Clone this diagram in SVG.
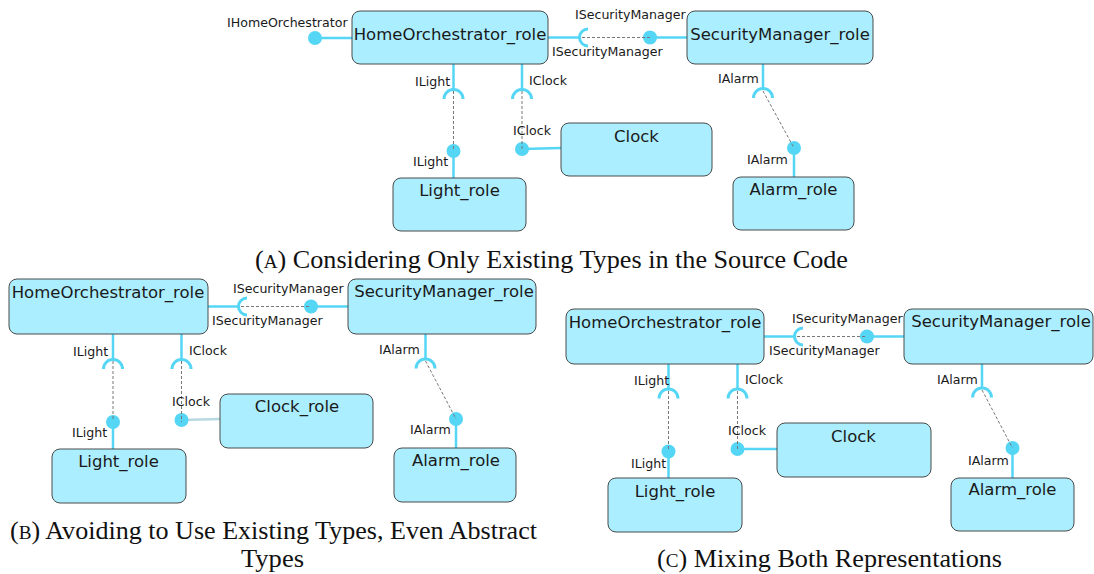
<svg xmlns="http://www.w3.org/2000/svg" width="1094" height="574" viewBox="0 0 1094 574">
  <defs>
    <style>
      .box { fill: #aaeeff; stroke: #4a4a4a; stroke-width: 1; }
      .name { font-family: "DejaVu Sans", Verdana, sans-serif; font-size: 16.5px; fill: #1a1a1a; text-anchor: middle; }
      .lbl { font-family: "DejaVu Sans", Verdana, sans-serif; font-size: 12.6px; fill: #1a1a1a; }
      .wire { stroke: #55d6f5; stroke-width: 2.5; fill: none; }
      .sock { stroke: #55d6f5; stroke-width: 3; fill: none; }
      .ball { fill: #55d6f5; }
      .dash { stroke: #777; stroke-width: 1; stroke-dasharray: 3 2; fill: none; }
      .cap { font-family: "Liberation Serif", "Times New Roman", serif; font-size: 26px; fill: #111; }
      .cap2 { font-family: "Liberation Serif", "Times New Roman", serif; font-size: 24.5px; fill: #111; }
    </style>
  </defs>
  <rect width="1094" height="574" fill="#ffffff"/>

  <!-- ===== (A) ===== -->
  <g id="connectors-a">
    <!-- provided IHomeOrchestrator -->
    <line class="wire" x1="315" y1="38" x2="352" y2="38"/>
    <circle class="ball" cx="315" cy="38" r="7"/>
    <!-- ISecurityManager -->
    <line class="wire" x1="548" y1="37.5" x2="580" y2="37.5"/>
    <path class="sock" d="M588,29 A8.5,8.5 0 0 0 588,46"/>
    <line class="wire" x1="650" y1="37.5" x2="687" y2="37.5"/>
    <circle class="ball" cx="650" cy="37.5" r="7"/>
    <line class="dash" x1="582" y1="37.5" x2="650" y2="37.5"/>
    <!-- ILight -->
    <line class="wire" x1="453.5" y1="64" x2="453.5" y2="89.5"/>
    <path class="sock" d="M444,99 A9.5,9.5 0 0 1 463,99"/>
    <line class="wire" x1="453.5" y1="151" x2="453.5" y2="178"/>
    <circle class="ball" cx="453.5" cy="151" r="7"/>
    <line class="dash" x1="453.5" y1="91" x2="453.5" y2="151"/>
    <!-- IClock -->
    <line class="wire" x1="522" y1="64" x2="522" y2="89.5"/>
    <path class="sock" d="M512.5,99 A9.5,9.5 0 0 1 531.5,99"/>
    <line class="wire" x1="522" y1="149" x2="561" y2="148"/>
    <circle class="ball" cx="522" cy="149" r="7"/>
    <line class="dash" x1="522" y1="91" x2="522" y2="151"/>
    <!-- IAlarm -->
    <line class="wire" x1="763" y1="64" x2="763" y2="88.5"/>
    <path class="sock" d="M753.5,98 A9.5,9.5 0 0 1 772.5,98"/>
    <line class="wire" x1="794" y1="148" x2="794" y2="177"/>
    <circle class="ball" cx="794" cy="148" r="7"/>
    <line class="dash" x1="763" y1="91" x2="794" y2="148"/>
    <!-- interface labels -->
    <text class="lbl" x="227" y="27">IHomeOrchestrator</text>
    <text class="lbl" x="575" y="19">ISecurityManager</text>
    <text class="lbl" x="552" y="56">ISecurityManager</text>
    <text class="lbl" x="415" y="86">ILight</text>
    <text class="lbl" x="529" y="85">IClock</text>
    <text class="lbl" x="718" y="83">IAlarm</text>
    <text class="lbl" x="413" y="166">ILight</text>
    <text class="lbl" x="513" y="135">IClock</text>
    <text class="lbl" x="747" y="164">IAlarm</text>
  </g>
  <g id="a-home">
    <rect class="box" x="352" y="11" width="196" height="53" rx="8"/>
    <text class="name" x="450" y="40">HomeOrchestrator_role</text>
  </g>
  <g id="a-security">
    <rect class="box" x="687" y="11" width="186" height="53" rx="8"/>
    <text class="name" x="780" y="40">SecurityManager_role</text>
  </g>
  <g id="a-light">
    <rect class="box" x="393" y="178" width="133" height="53" rx="8"/>
    <text class="name" x="459.5" y="196">Light_role</text>
  </g>
  <g id="a-clock">
    <rect class="box" x="561" y="123" width="151" height="53" rx="8"/>
    <text class="name" x="636.5" y="142">Clock</text>
  </g>
  <g id="a-alarm">
    <rect class="box" x="733" y="177" width="121" height="53" rx="8"/>
    <text class="name" x="793.5" y="195">Alarm_role</text>
  </g>
  <text class="cap" x="255" y="268" textLength="593" lengthAdjust="spacingAndGlyphs">(<tspan font-size="19">A</tspan>) Considering Only Existing Types in the Source Code</text>

  <!-- ===== (B) ===== -->
  <g id="connectors-b">
    <!-- ISecurityManager -->
    <line class="wire" x1="208" y1="306.5" x2="239" y2="306.5"/>
    <path class="sock" d="M247,298 A8.5,8.5 0 0 0 247,315"/>
    <line class="wire" x1="311" y1="306.5" x2="348" y2="306.5"/>
    <circle class="ball" cx="311" cy="306.5" r="7"/>
    <line class="dash" x1="241" y1="306.5" x2="311" y2="306.5"/>
    <!-- ILight -->
    <line class="wire" x1="113" y1="334" x2="113" y2="359.5"/>
    <path class="sock" d="M103.5,369 A9.5,9.5 0 0 1 122.5,369"/>
    <line class="wire" x1="113" y1="422" x2="113" y2="449"/>
    <circle class="ball" cx="113" cy="422" r="7"/>
    <line class="dash" x1="113" y1="361" x2="113" y2="420"/>
    <!-- IClock -->
    <line class="wire" x1="181.5" y1="334" x2="181.5" y2="359.5"/>
    <path class="sock" d="M172,369 A9.5,9.5 0 0 1 191,369"/>
    <line x1="181.5" y1="420" x2="220" y2="419" stroke="#b8d8e2" stroke-width="2.5"/>
    <circle class="ball" cx="181.5" cy="420" r="7"/>
    <line class="dash" x1="181.5" y1="361" x2="181.5" y2="422"/>
    <!-- IAlarm -->
    <line class="wire" x1="425.5" y1="334" x2="425.5" y2="359"/>
    <path class="sock" d="M416,368.5 A9.5,9.5 0 0 1 435,368.5"/>
    <line class="wire" x1="456" y1="419" x2="456" y2="448"/>
    <circle class="ball" cx="456" cy="419" r="7"/>
    <line class="dash" x1="425.5" y1="361" x2="456" y2="419"/>
    <!-- interface labels -->
    <text class="lbl" x="233" y="293">ISecurityManager</text>
    <text class="lbl" x="212" y="325">ISecurityManager</text>
    <text class="lbl" x="73" y="356">ILight</text>
    <text class="lbl" x="189" y="355">IClock</text>
    <text class="lbl" x="379" y="354">IAlarm</text>
    <text class="lbl" x="72" y="437">ILight</text>
    <text class="lbl" x="172" y="406">IClock</text>
    <text class="lbl" x="410" y="434">IAlarm</text>
  </g>
  <g id="b-home">
    <rect class="box" x="9" y="279" width="199" height="55" rx="8"/>
    <text class="name" x="108" y="298">HomeOrchestrator_role</text>
  </g>
  <g id="b-security">
    <rect class="box" x="348" y="279" width="188" height="55" rx="8"/>
    <text class="name" x="444" y="297">SecurityManager_role</text>
  </g>
  <g id="b-clock">
    <rect class="box" x="220" y="394" width="153" height="54" rx="8"/>
    <text class="name" x="297" y="412">Clock_role</text>
  </g>
  <g id="b-light">
    <rect class="box" x="52" y="449" width="134" height="54" rx="8"/>
    <text class="name" x="118.5" y="467">Light_role</text>
  </g>
  <g id="b-alarm">
    <rect class="box" x="394" y="448" width="122" height="54" rx="8"/>
    <text class="name" x="456" y="466">Alarm_role</text>
  </g>
  <text class="cap2" x="10" y="539" textLength="527" lengthAdjust="spacingAndGlyphs">(<tspan font-size="18">B</tspan>) Avoiding to Use Existing Types, Even Abstract</text>
  <text class="cap2" x="241" y="567" textLength="63" lengthAdjust="spacingAndGlyphs">Types</text>

  <!-- ===== (C) ===== -->
  <g id="connectors-c">
    <!-- ISecurityManager -->
    <line class="wire" x1="764" y1="336.5" x2="795" y2="336.5"/>
    <path class="sock" d="M803,328 A8.5,8.5 0 0 0 803,345"/>
    <line class="wire" x1="867" y1="336.5" x2="904" y2="336.5"/>
    <circle class="ball" cx="867" cy="336.5" r="7"/>
    <line class="dash" x1="797" y1="336.5" x2="867" y2="336.5"/>
    <!-- ILight -->
    <line class="wire" x1="668.5" y1="364" x2="668.5" y2="389"/>
    <path class="sock" d="M659,398.5 A9.5,9.5 0 0 1 678,398.5"/>
    <line class="wire" x1="668.5" y1="451.5" x2="668.5" y2="478"/>
    <circle class="ball" cx="668.5" cy="451.5" r="7"/>
    <line class="dash" x1="668.5" y1="391" x2="668.5" y2="449"/>
    <!-- IClock -->
    <line class="wire" x1="737.5" y1="364" x2="737.5" y2="389"/>
    <path class="sock" d="M728,398.5 A9.5,9.5 0 0 1 747,398.5"/>
    <line class="wire" x1="737.5" y1="449" x2="777" y2="449"/>
    <circle class="ball" cx="737.5" cy="449" r="7"/>
    <line class="dash" x1="737.5" y1="391" x2="737.5" y2="451"/>
    <!-- IAlarm -->
    <line class="wire" x1="982" y1="364" x2="982" y2="388"/>
    <path class="sock" d="M972.5,397.5 A9.5,9.5 0 0 1 991.5,397.5"/>
    <line class="wire" x1="1012.5" y1="448" x2="1012.5" y2="478"/>
    <circle class="ball" cx="1012.5" cy="448" r="7"/>
    <line class="dash" x1="982" y1="390" x2="1012.5" y2="448"/>
    <!-- interface labels -->
    <text class="lbl" x="792" y="323">ISecurityManager</text>
    <text class="lbl" x="769" y="355">ISecurityManager</text>
    <text class="lbl" x="634" y="385">ILight</text>
    <text class="lbl" x="745" y="384">IClock</text>
    <text class="lbl" x="937" y="384">IAlarm</text>
    <text class="lbl" x="631" y="468">ILight</text>
    <text class="lbl" x="728" y="435">IClock</text>
    <text class="lbl" x="968" y="465">IAlarm</text>
  </g>
  <g id="c-home">
    <rect class="box" x="566" y="309" width="198" height="55" rx="8"/>
    <text class="name" x="665" y="328">HomeOrchestrator_role</text>
  </g>
  <g id="c-security">
    <rect class="box" x="904" y="309" width="189" height="55" rx="8"/>
    <text class="name" x="1001" y="327">SecurityManager_role</text>
  </g>
  <g id="c-clock">
    <rect class="box" x="777" y="423" width="154" height="54" rx="8"/>
    <text class="name" x="853.5" y="442">Clock</text>
  </g>
  <g id="c-light">
    <rect class="box" x="608" y="478" width="134" height="54" rx="8"/>
    <text class="name" x="675" y="497">Light_role</text>
  </g>
  <g id="c-alarm">
    <rect class="box" x="951" y="478" width="123" height="53" rx="8"/>
    <text class="name" x="1012.5" y="495">Alarm_role</text>
  </g>
  <text class="cap" x="657" y="567" textLength="345" lengthAdjust="spacingAndGlyphs">(<tspan font-size="19">C</tspan>) Mixing Both Representations</text>
</svg>
